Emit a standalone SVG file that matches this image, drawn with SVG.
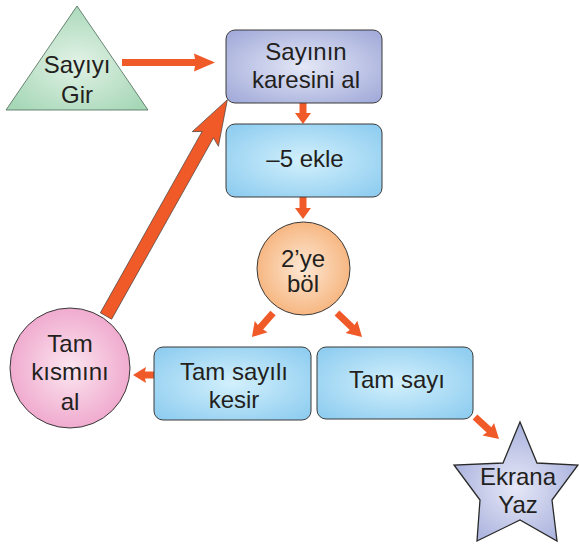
<svg xmlns="http://www.w3.org/2000/svg" width="579" height="545" viewBox="0 0 579 545">
<defs>
<radialGradient id="gGreen" cx="0.5" cy="0.55" r="0.6"><stop offset="0" stop-color="#e2f2e6"/><stop offset="1" stop-color="#a6d7b7"/></radialGradient>
<radialGradient id="gLav" cx="0.5" cy="0.5" r="0.65"><stop offset="0" stop-color="#e4e7f6"/><stop offset="1" stop-color="#a3acda"/></radialGradient>
<radialGradient id="gBlue" cx="0.5" cy="0.5" r="0.65"><stop offset="0" stop-color="#d2f0fc"/><stop offset="1" stop-color="#8fcdf0"/></radialGradient>
<radialGradient id="gOrange" cx="0.5" cy="0.5" r="0.55"><stop offset="0" stop-color="#fde8d4"/><stop offset="1" stop-color="#f6b27a"/></radialGradient>
<radialGradient id="gPink" cx="0.5" cy="0.5" r="0.55"><stop offset="0" stop-color="#fbe6f0"/><stop offset="1" stop-color="#efa5cb"/></radialGradient>
<radialGradient id="gStar" cx="0.5" cy="0.55" r="0.55"><stop offset="0" stop-color="#e6e8f7"/><stop offset="1" stop-color="#a9b1dd"/></radialGradient>
</defs>
<style>
.t{font-family:"Liberation Sans",Arial,Helvetica,sans-serif;font-size:24px;fill:#231f20;text-anchor:middle}
.box{stroke:#3a3a3a;stroke-width:1}
.arr{fill:#f05a28}
.big{fill:#f05a28;stroke:#3a3a3a;stroke-width:0.6}
</style>
<g id="connectors">
<path class="arr" transform="translate(122,62.5)" d="M0,-3.5 L73,-3.5 L72,-9 L93,0 L72,9 L73,3.5 L0,3.5 Z"/>
<path class="arr" transform="translate(303,103) rotate(90)" d="M0,-3.5 L10,-3.5 L10,-8 L21,0 L10,8 L10,3.5 L0,3.5 Z"/>
<path class="arr" transform="translate(303,197) rotate(90)" d="M0,-3.5 L11,-3.5 L11,-8 L22,0 L11,8 L11,3.5 L0,3.5 Z"/>
<path class="arr" transform="translate(273,313) rotate(131.2)" d="M0,-3.5 L19,-3.5 L18,-8.5 L32,0 L18,8.5 L19,3.5 L0,3.5 Z"/>
<path class="arr" transform="translate(337,313) rotate(43.8)" d="M0,-3.5 L21,-3.5 L20,-8.5 L34.7,0 L20,8.5 L21,3.5 L0,3.5 Z"/>
<path class="arr" transform="translate(154,375) rotate(180)" d="M0,-3.5 L9,-3.5 L8,-8 L21,0 L8,8 L9,3.5 L0,3.5 Z"/>
<path class="arr" transform="translate(475,417) rotate(42.5)" d="M0,-3.5 L19,-3.5 L18,-8.5 L32.6,0 L18,8.5 L19,3.5 L0,3.5 Z"/>
<path class="big" transform="translate(106,316) rotate(-60.7)" d="M0,-6.5 L208,-6.5 L203,-15 L248,0 L203,15 L208,6.5 L0,6.5 Z"/>
</g>
<g id="sayiyi-gir">
<polygon points="77,6 148,110 6,110" fill="url(#gGreen)" stroke="#4a6a55" stroke-width="0.8"/>
<text class="t" x="77" y="73">Sayıyı</text>
<text class="t" x="77" y="103">Gir</text>
</g>
<g id="karesini-al">
<rect class="box" x="226" y="30" width="156" height="73" rx="9" fill="url(#gLav)"/>
<text class="t" x="306" y="60">Sayının</text>
<text class="t" x="306" y="88">karesini al</text>
</g>
<g id="eksi-bes-ekle">
<rect class="box" x="226" y="124" width="156" height="73" rx="9" fill="url(#gBlue)"/>
<text class="t" x="305" y="167">–5 ekle</text>
</g>
<g id="ikiye-bol">
<circle class="box" cx="303.5" cy="268.5" r="46.5" fill="url(#gOrange)"/>
<text class="t" x="303" y="267">2’ye</text>
<text class="t" x="303" y="292">böl</text>
</g>
<g id="tam-sayili-kesir">
<rect class="box" x="154" y="347" width="157" height="73" rx="9" fill="url(#gBlue)"/>
<text class="t" x="234" y="380">Tam sayılı</text>
<text class="t" x="234" y="408">kesir</text>
</g>
<g id="tam-sayi">
<rect class="box" x="317" y="347" width="156" height="72" rx="9" fill="url(#gBlue)"/>
<text class="t" x="397" y="388">Tam sayı</text>
</g>
<g id="tam-kismini-al">
<circle class="box" cx="70" cy="368" r="60" fill="url(#gPink)"/>
<text class="t" x="70" y="352">Tam</text>
<text class="t" x="70" y="380">kısmını</text>
<text class="t" x="70" y="410">al</text>
</g>
<g id="ekrana-yaz">
<polygon points="520,422 537,463 578,465 552,500 557,541 520,520 477,541 480,500 454,465 503,463" fill="url(#gStar)" stroke="#2a2a2a" stroke-width="1.3" stroke-linejoin="miter"/>
<text class="t" x="518" y="485">Ekrana</text>
<text class="t" x="518" y="513">Yaz</text>
</g>
</svg>
